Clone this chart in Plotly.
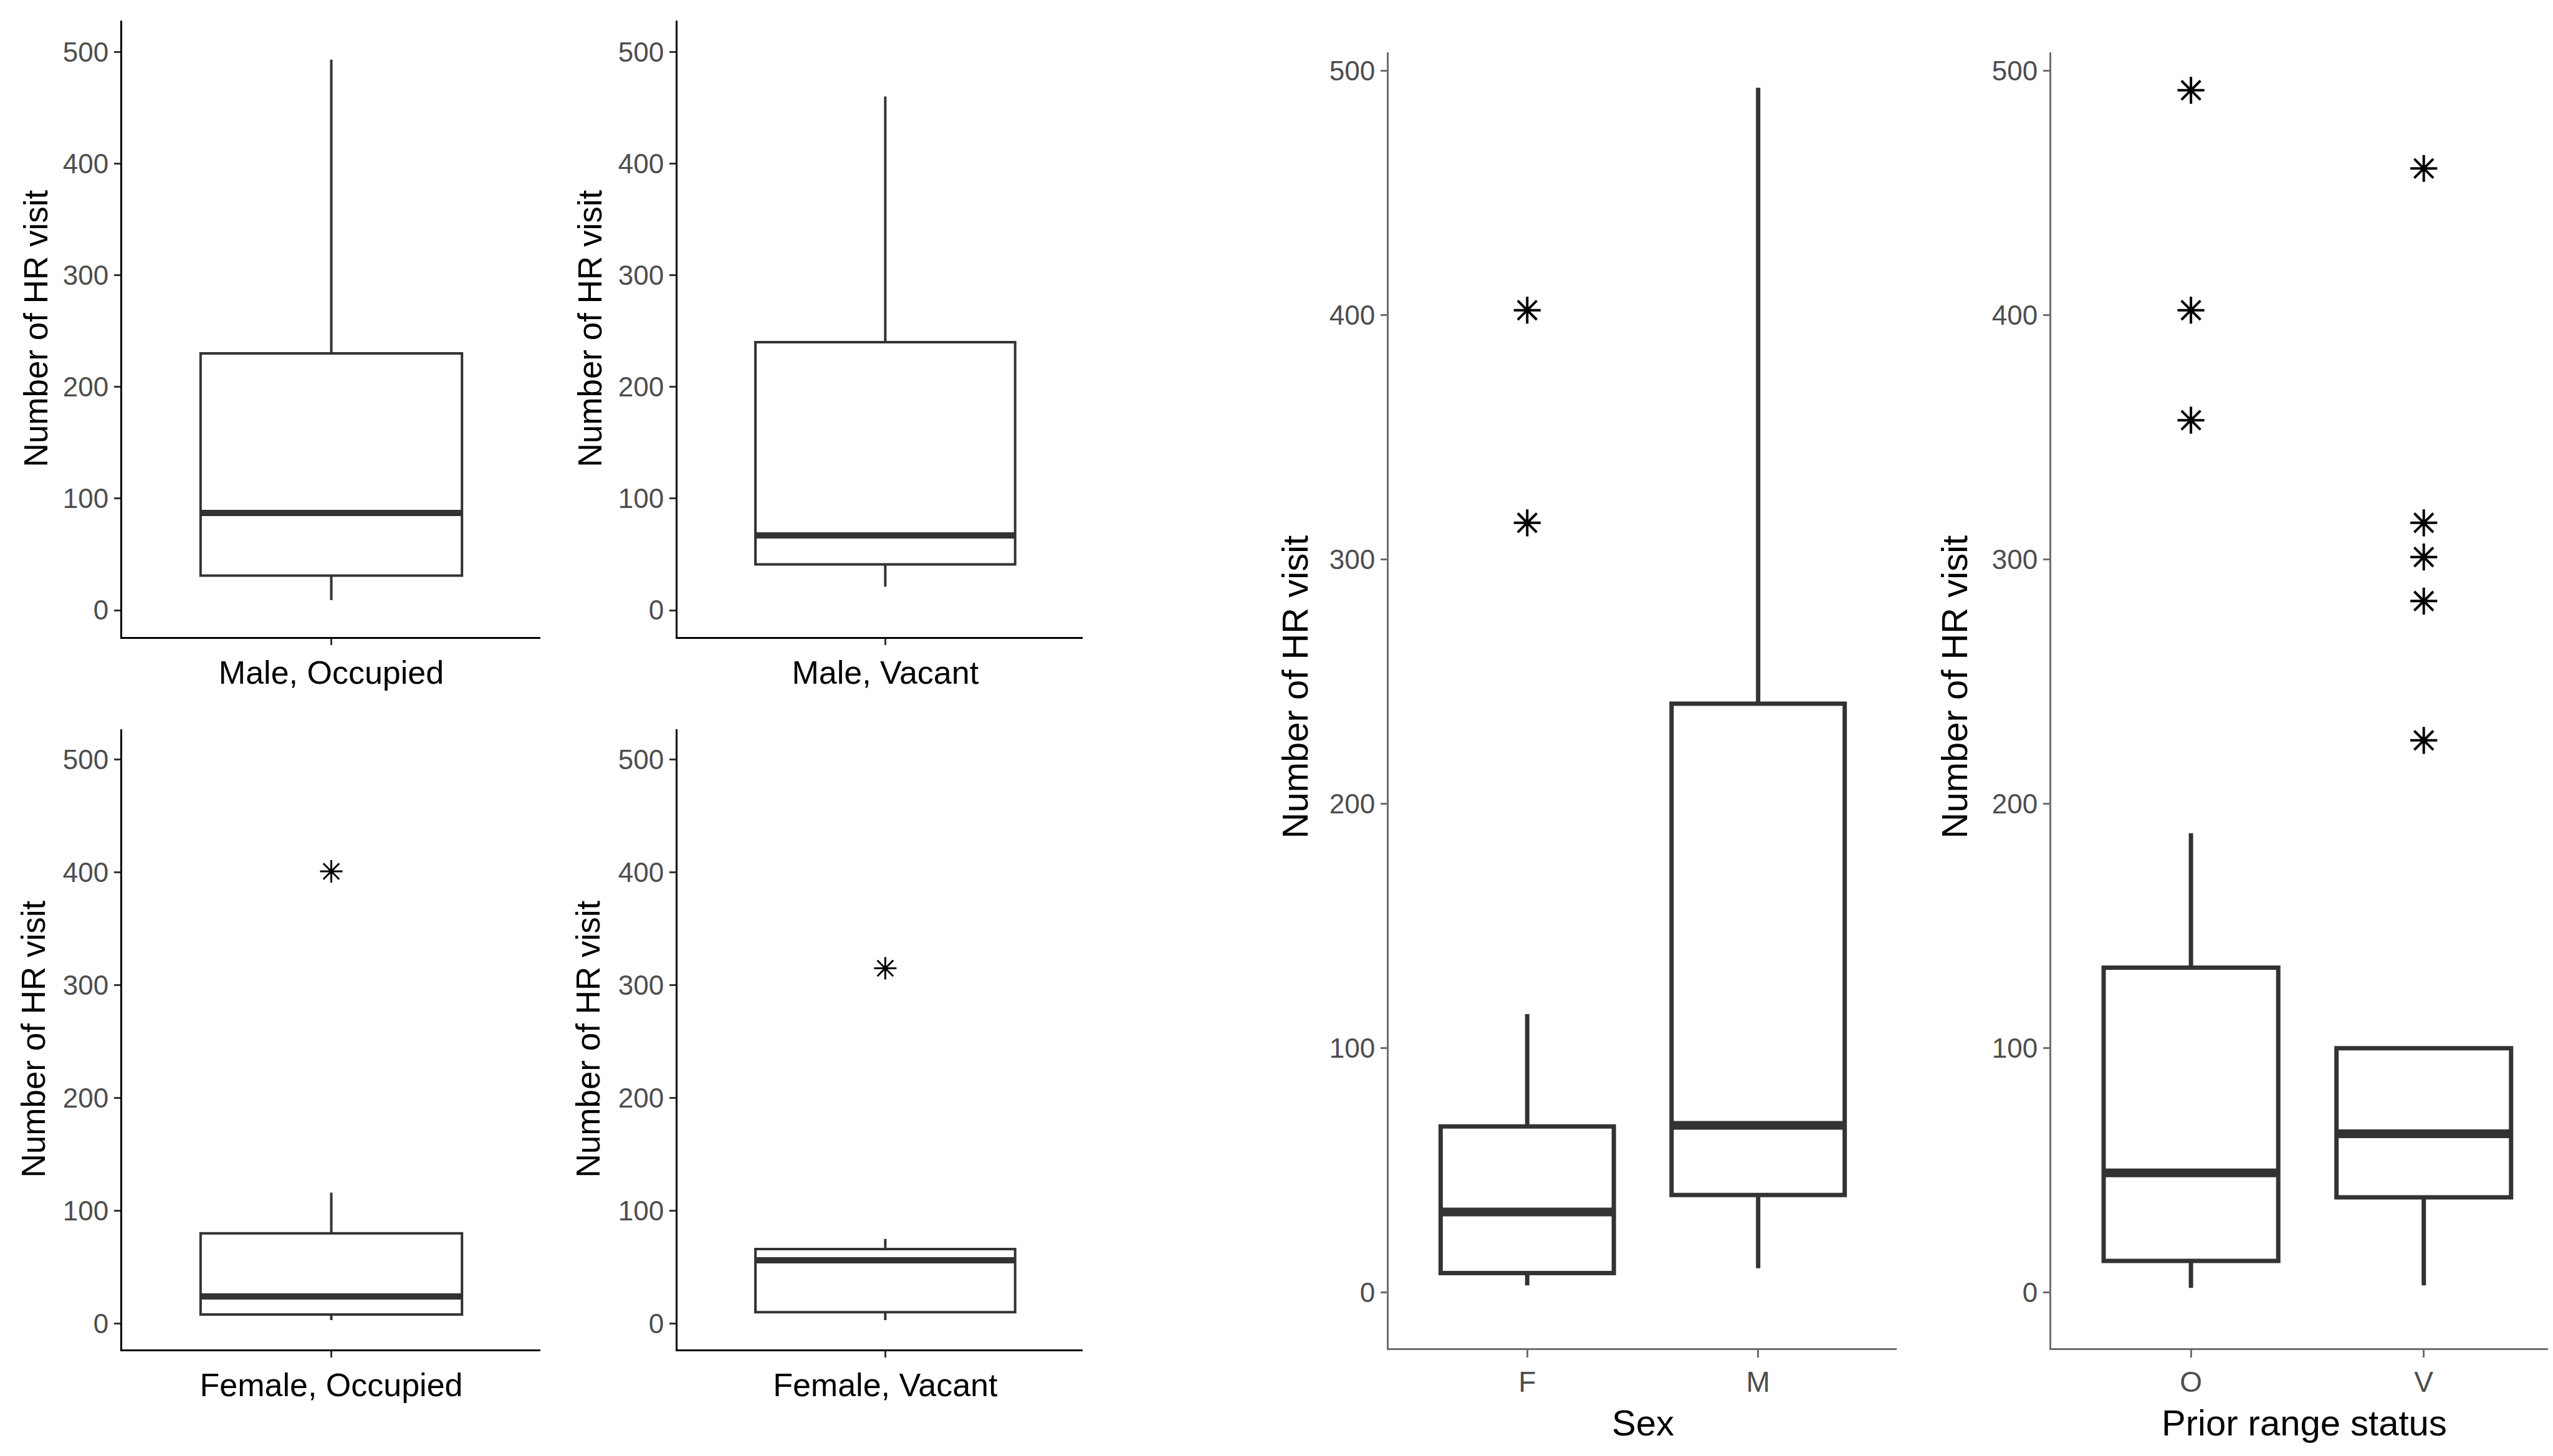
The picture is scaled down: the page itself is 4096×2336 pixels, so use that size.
import plotly.graph_objects as go

# small panels (sex x prior range status)
small_labels = ["Male, Occupied", "Male, Vacant", "Female, Occupied", "Female, Vacant"]
small_q1 = [31, 41, 8, 10]
small_med = [87, 67, 24, 56]
small_q3 = [230, 240, 80, 66]
small_lo = [9, 21, 3, 3]
small_hi = [493, 460, 116, 75]
small_out = [[], [], [401], [315]]

# big panel 1: by sex
sex_labels = ["F", "M"]
sex_q1 = [8, 40]
sex_med = [33, 68.5]
sex_q3 = [68, 241]
sex_lo = [3, 10]
sex_hi = [114, 493]
sex_out = [[402, 315], []]

# big panel 2: by prior range status
status_labels = ["O", "V"]
status_q1 = [13, 39]
status_med = [49, 65]
status_q3 = [133, 100]
status_lo = [2, 3]
status_hi = [188, 100]
status_out = [[492, 402, 357], [460, 315, 301, 283, 226]]

y_ticks = [0, 100, 200, 300, 400, 500]
y_title = "Number of HR visit"

W, H = 4096, 2336
OFF = 8  # page body margin
FONT = "Liberation Sans, Arial, sans-serif"
BOXCOL = "#333333"
BW = 0.75

fig = go.Figure()


def px_x(p):
    return (p - OFF) / W


def px_y(p):
    return 1 - (p - OFF) / H


def add_panel(i, labels, q1, med, q3, lo, hi, outs, box, yrange, big, xtitle=None,
              ytitle_x=0, xrange=None, xtitle_x=None):
    x0, x1, y0, y1 = box
    n = len(labels)
    xa = "x" if i == 1 else f"x{i}"
    ya = "y" if i == 1 else f"y{i}"
    lw = 7 if big else 4
    mw = 14 if big else 10
    msize = 36 if big else 30
    mline = 4 if big else 3
    for k in range(n):
        pos = k + 1
        fig.add_trace(go.Box(
            x=[pos], q1=[q1[k]], median=[med[k]], q3=[q3[k]],
            lowerfence=[lo[k]], upperfence=[hi[k]],
            width=BW, whiskerwidth=0, boxpoints=False,
            fillcolor="white", line=dict(color=BOXCOL, width=lw),
            xaxis=xa, yaxis=ya, showlegend=False,
        ))
        fig.add_trace(go.Scatter(
            x=[pos - BW / 2, pos + BW / 2], y=[med[k], med[k]],
            mode="lines", line=dict(color=BOXCOL, width=mw),
            xaxis=xa, yaxis=ya, showlegend=False, hoverinfo="skip",
        ))
        if outs[k]:
            fig.add_trace(go.Scatter(
                x=[pos] * len(outs[k]), y=outs[k], mode="markers",
                marker=dict(symbol="asterisk-open", size=msize, color="black",
                            line=dict(color="black", width=mline)),
                xaxis=xa, yaxis=ya, showlegend=False,
            ))

    axcol = "#6e6e6e" if big else "black"
    tickcol = "#6e6e6e" if big else "#333333"
    key = "" if i == 1 else str(i)
    fig.layout["xaxis" + key] = dict(
        domain=[px_x(x0), px_x(x1)], anchor=ya,
        range=xrange or [0.4, n + 0.6], tickvals=list(range(1, n + 1)), ticktext=labels,
        showline=True, linecolor=axcol, linewidth=3,
        ticks="outside", ticklen=12 if big else 10, tickwidth=3, tickcolor=tickcol,
        showgrid=False, zeroline=False,
        tickfont=dict(family=FONT, size=46 if big else 52,
                      color="#4d4d4d" if big else "black"),
    )
    fig.layout["yaxis" + key] = dict(
        domain=[px_y(y1), px_y(y0)], anchor=xa,
        range=yrange, tickvals=y_ticks,
        showline=True, linecolor=axcol, linewidth=3,
        ticks="outside", ticklen=10, tickwidth=3, tickcolor=tickcol,
        showgrid=False, zeroline=False,
        tickfont=dict(family=FONT, size=44, color="#4d4d4d"),
    )
    fig.add_annotation(
        x=px_x(ytitle_x), y=px_y((y0 + y1) / 2 - (21 if big else 0)),
        xref="paper", yref="paper", text=y_title, textangle=-90,
        showarrow=False, xanchor="center", yanchor="middle",
        font=dict(family=FONT, size=58 if big else 53, color="black"),
    )
    if xtitle:
        fig.add_annotation(
            x=px_x(xtitle_x or (x0 + x1) / 2), y=px_y(2282),
            xref="paper", yref="paper", text=xtitle, showarrow=False,
            xanchor="center", yanchor="middle",
            font=dict(family=FONT, size=58, color="black"),
        )


small_boxes = [(196, 867, 33, 1022), (1087, 1737, 33, 1022),
               (196, 867, 1170, 2165), (1087, 1737, 1170, 2165)]
small_title_x = [57, 946, 53, 943]
small_xrange = [None, [0.4, 1.57], None, [0.4, 1.57]]
for j in range(4):
    add_panel(j + 1, [small_labels[j]], [small_q1[j]], [small_med[j]], [small_q3[j]],
              [small_lo[j]], [small_hi[j]], [small_out[j]], small_boxes[j],
              [-24, 528] if j < 2 else [-23, 527], False, ytitle_x=small_title_x[j],
              xrange=small_xrange[j])

add_panel(5, sex_labels, sex_q1, sex_med, sex_q3, sex_lo, sex_hi, sex_out,
          (2228, 3043, 84, 2163), [-22.7, 507.5], True, xtitle="Sex", ytitle_x=2077)
add_panel(6, status_labels, status_q1, status_med, status_q3, status_lo, status_hi, status_out,
          (3291, 4096, 84, 2163), [-22.7, 507.5], True, xtitle="Prior range status",
          ytitle_x=3135, xrange=[0.4, 2.555], xtitle_x=3697)

fig.update_layout(
    width=W, height=H, margin=dict(l=0, r=0, t=0, b=0),
    paper_bgcolor="white", plot_bgcolor="white", showlegend=False,
)

fig.write_html("out.html")
